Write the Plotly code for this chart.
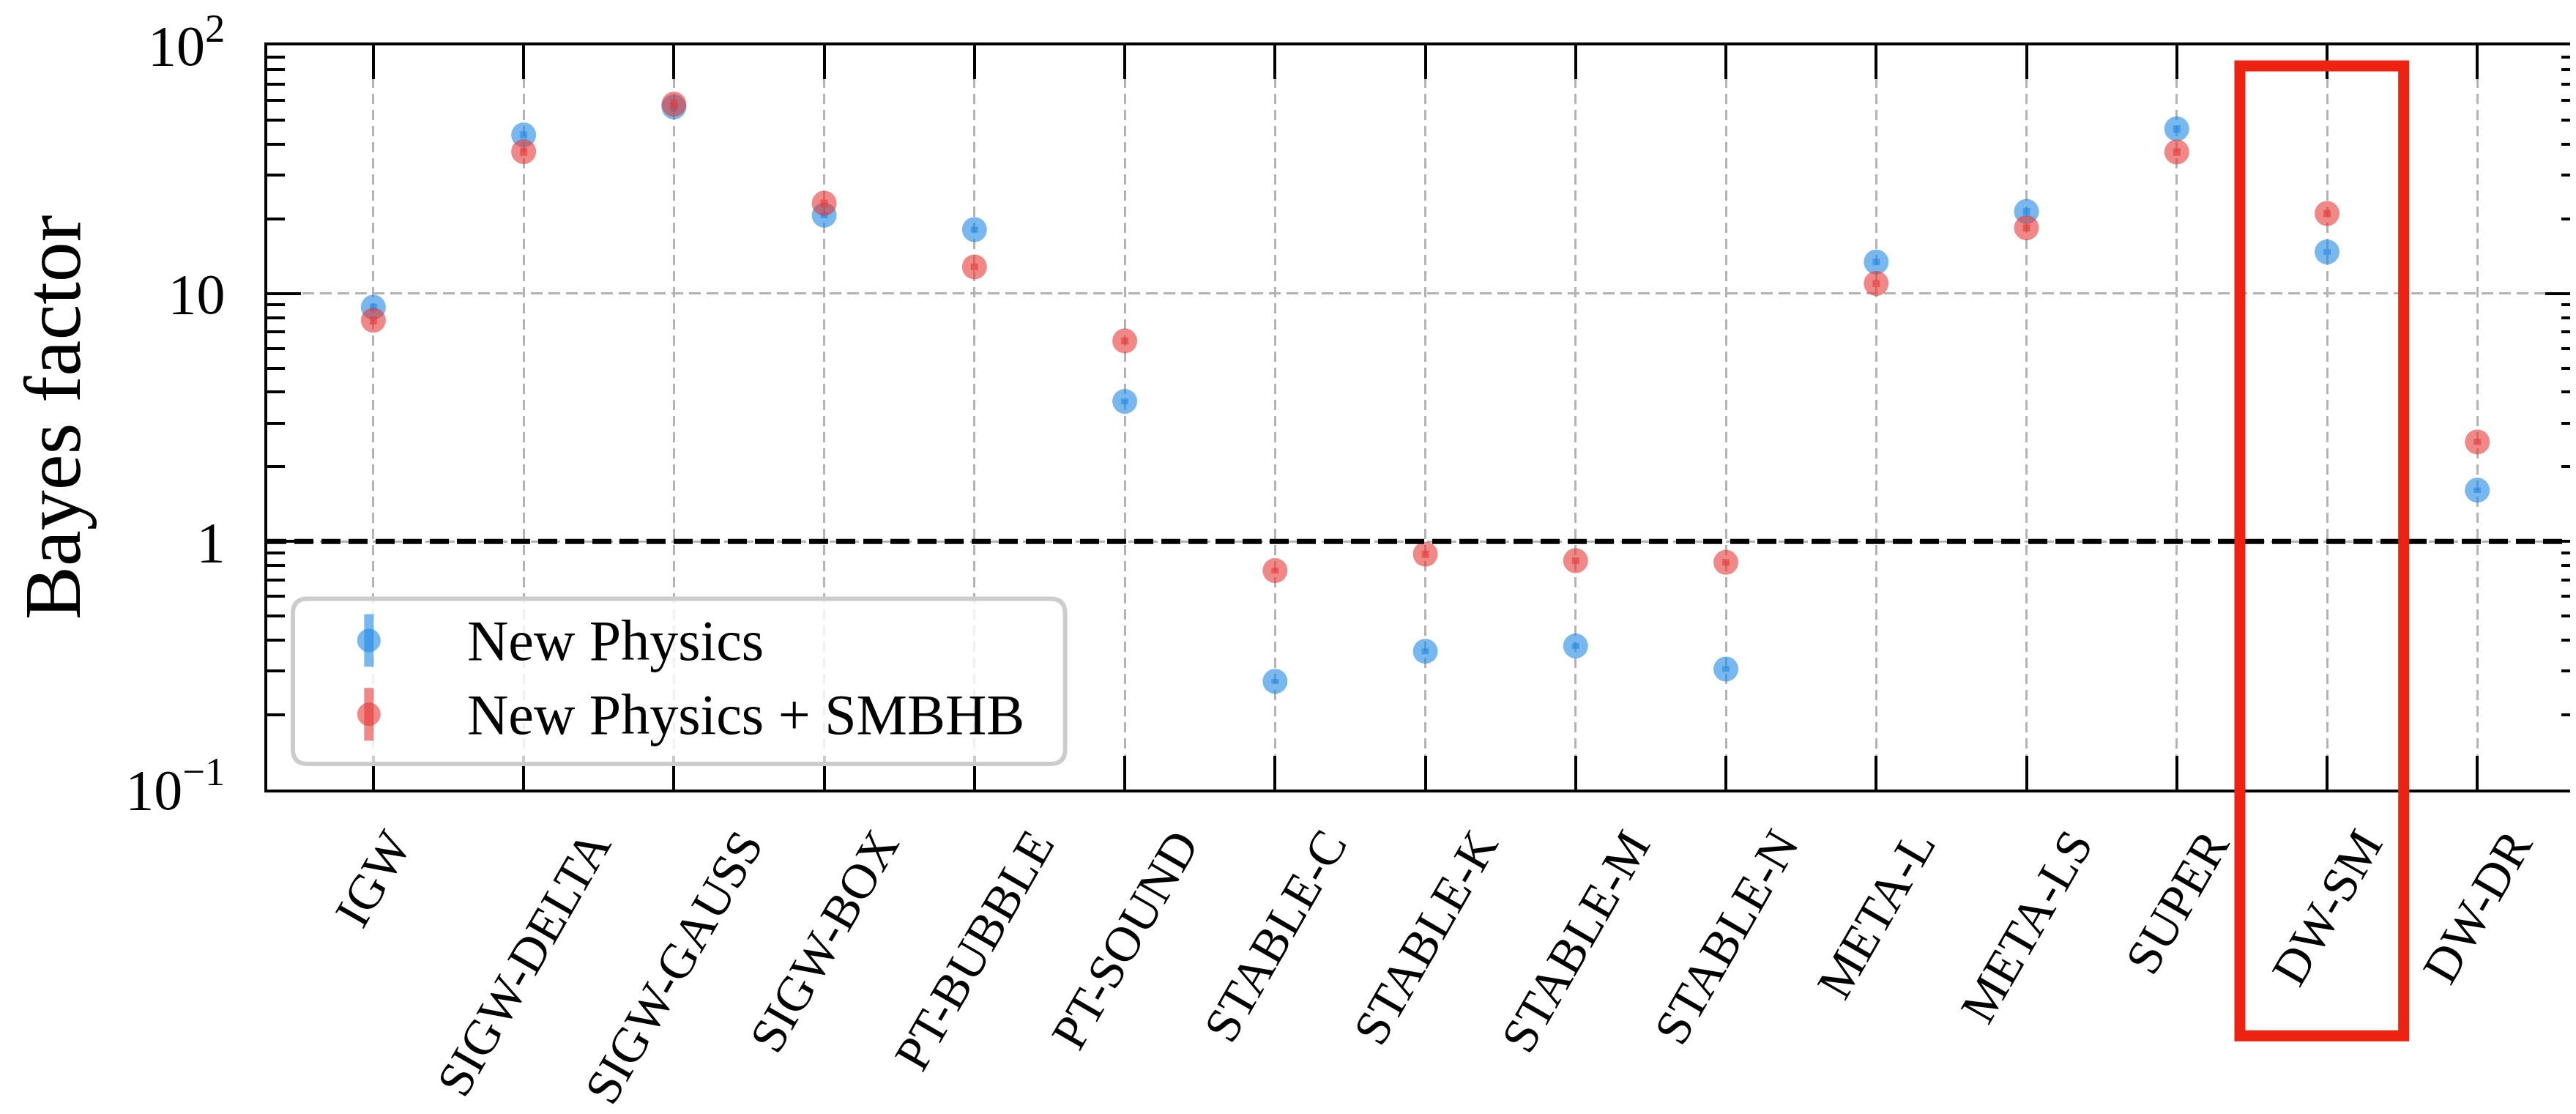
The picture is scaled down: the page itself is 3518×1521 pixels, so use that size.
import plotly.graph_objects as go

# ---------------- data ----------------
categories = ["IGW", "SIGW-DELTA", "SIGW-GAUSS", "SIGW-BOX", "PT-BUBBLE", "PT-SOUND",
              "STABLE-C", "STABLE-K", "STABLE-M", "STABLE-N", "META-L", "META-LS",
              "SUPER", "DW-SM", "DW-DR"]
bf_new_physics = [8.8, 43.6, 56.5, 20.7, 18.1, 3.67, 0.273, 0.361, 0.379, 0.306,
                  13.4, 21.4, 46.1, 14.7, 1.61]
err_new_physics = [0.3, 1.5, 2.4, 0.6, 0.5, 0.1, 0.006, 0.01, 0.01, 0.008,
                   0.4, 0.7, 1.6, 0.4, 0.04]
bf_np_smbhb = [7.8, 37.3, 58.0, 23.1, 12.8, 6.44, 0.763, 0.889, 0.837, 0.824,
               10.97, 18.4, 37.2, 21.0, 2.52]
err_np_smbhb = [0.3, 1.4, 2.6, 0.8, 0.4, 0.2, 0.02, 0.03, 0.025, 0.025,
                0.35, 0.6, 1.3, 0.7, 0.07]
series_names = ["New Physics", "New Physics + SMBHB"]
ytick_vals = [0.1, 1, 10, 100]
ytick_text = ["10<sup>\u22121</sup>", "1", "10", "10<sup>2</sup>"]
y_title = "Bayes factor"
reference_level = 1

# ---------------- style ----------------
FONT = "Liberation Serif"
BLUE = "rgba(30,136,229,0.6)"
RED = "rgba(229,57,53,0.6)"
GRID = "#b3b3b3"

W, H = 3518, 1521
ML, MR, MT, MB = 357, 0, 52, 451
PW, PH = W - ML - MR, H - MT - MB


def px(xpix):
    return (xpix - ML) / PW


def py(ypix):
    return (H - MB - ypix) / PH


x_idx = list(range(len(categories)))

fig = go.Figure()
for vals, errs, col, name in [(bf_new_physics, err_new_physics, BLUE, series_names[0]),
                              (bf_np_smbhb, err_np_smbhb, RED, series_names[1])]:
    fig.add_trace(go.Scatter(
        x=x_idx, y=vals, mode="markers", name=name, showlegend=False,
        marker=dict(size=34, color=col, line=dict(width=0)),
        error_y=dict(type="data", array=errs, visible=True, color=col,
                     thickness=10, width=0),
    ))

minor_vals = [m * 10 ** e for e in (-1, 0, 1) for m in range(2, 10)]

fig.update_xaxes(
    range=[-0.706, 14.676], tickvals=x_idx, showticklabels=False,
    ticks="inside", ticklen=46, tickwidth=3.5, tickcolor="black",
    showline=True, linewidth=4, linecolor="black", mirror="allticks",
    showgrid=True, gridcolor=GRID, gridwidth=3, griddash="14px,8px",
    zeroline=False,
)
fig.update_yaxes(
    type="log", range=[-1.0002, 2.0002], tickvals=ytick_vals, ticktext=ytick_text,
    ticks="inside", ticklen=46, tickwidth=3.5, tickcolor="black",
    ticklabelstandoff=38, ticklabeloverflow="allow",
    minor=dict(tickvals=minor_vals, ticks="inside", ticklen=24, tickwidth=3.5,
               tickcolor="black", showgrid=False),
    showline=True, linewidth=4, linecolor="black", mirror="allticks",
    showgrid=True, gridcolor=GRID, gridwidth=3, griddash="16px,8px",
    zeroline=False,
    tickfont=dict(family=FONT, size=78, color="black"),
)

shapes = []
annotations = []

# reference line at Bayes factor = 1
shapes.append(dict(type="line", xref="paper", yref="y", x0=0, x1=1,
                   y0=reference_level, y1=reference_level,
                   line=dict(color="black", width=7, dash="26px,11px"), layer="above"))

# rotated category labels, centred under each tick
for i, c in enumerate(categories):
    annotations.append(dict(x=i, xref="x", y=0, yref="paper", text=c, showarrow=False,
                            textangle=-60, xanchor="center", yanchor="top", yshift=-40,
                            font=dict(family=FONT, size=68, color="black")))

# y-axis title
annotations.append(dict(x=px(64), xref="paper", y=0.5, yref="paper", text=y_title,
                        showarrow=False, textangle=-90, xanchor="center", yanchor="middle",
                        font=dict(family=FONT, size=110, color="black")))

# legend box (rounded)
x0, x1, y0, y1 = px(392), px(1448), py(1035), py(809)
rx, ry = 20 / PW, 20 / PH
path = (f"M {x0+rx},{y0} L {x1-rx},{y0} Q {x1},{y0} {x1},{y0+ry} "
        f"L {x1},{y1-ry} Q {x1},{y1} {x1-rx},{y1} L {x0+rx},{y1} "
        f"Q {x0},{y1} {x0},{y1-ry} L {x0},{y0+ry} Q {x0},{y0} {x0+rx},{y0} Z")
shapes.append(dict(type="path", xref="paper", yref="paper", path=path,
                   line=dict(color="#cccccc", width=6),
                   fillcolor="rgba(255,255,255,0.8)", layer="above"))
for cy, col, name in [(866, BLUE, series_names[0]), (967, RED, series_names[1])]:
    shapes.append(dict(type="rect", xref="paper", yref="paper",
                       x0=px(496 - 6.5), x1=px(496 + 6.5), y0=py(cy + 36), y1=py(cy - 36),
                       fillcolor=col, line=dict(width=0), layer="above"))
    shapes.append(dict(type="circle", xref="paper", yref="paper",
                       x0=px(496 - 16), x1=px(496 + 16), y0=py(cy + 16), y1=py(cy - 16),
                       fillcolor=col, line=dict(width=0), layer="above"))
    annotations.append(dict(x=px(628), xref="paper", y=py(cy), yref="paper", text=name,
                            showarrow=False, xanchor="left", yanchor="middle",
                            font=dict(family=FONT, size=78, color="black")))

# red highlight box around DW-SM
shapes.append(dict(type="rect", xref="x", yref="paper", x0=12.42, x1=13.51,
                   y0=py(1407), y1=py(80),
                   line=dict(color="#EE2211", width=15), fillcolor="rgba(0,0,0,0)",
                   layer="above"))

fig.update_layout(
    width=W, height=H, autosize=False,
    margin=dict(l=ML, r=MR, t=MT, b=MB, pad=0),
    paper_bgcolor="white", plot_bgcolor="white",
    showlegend=False,
    shapes=shapes, annotations=annotations,
    font=dict(family=FONT, color="black"),
)

fig.write_html("out.html")
